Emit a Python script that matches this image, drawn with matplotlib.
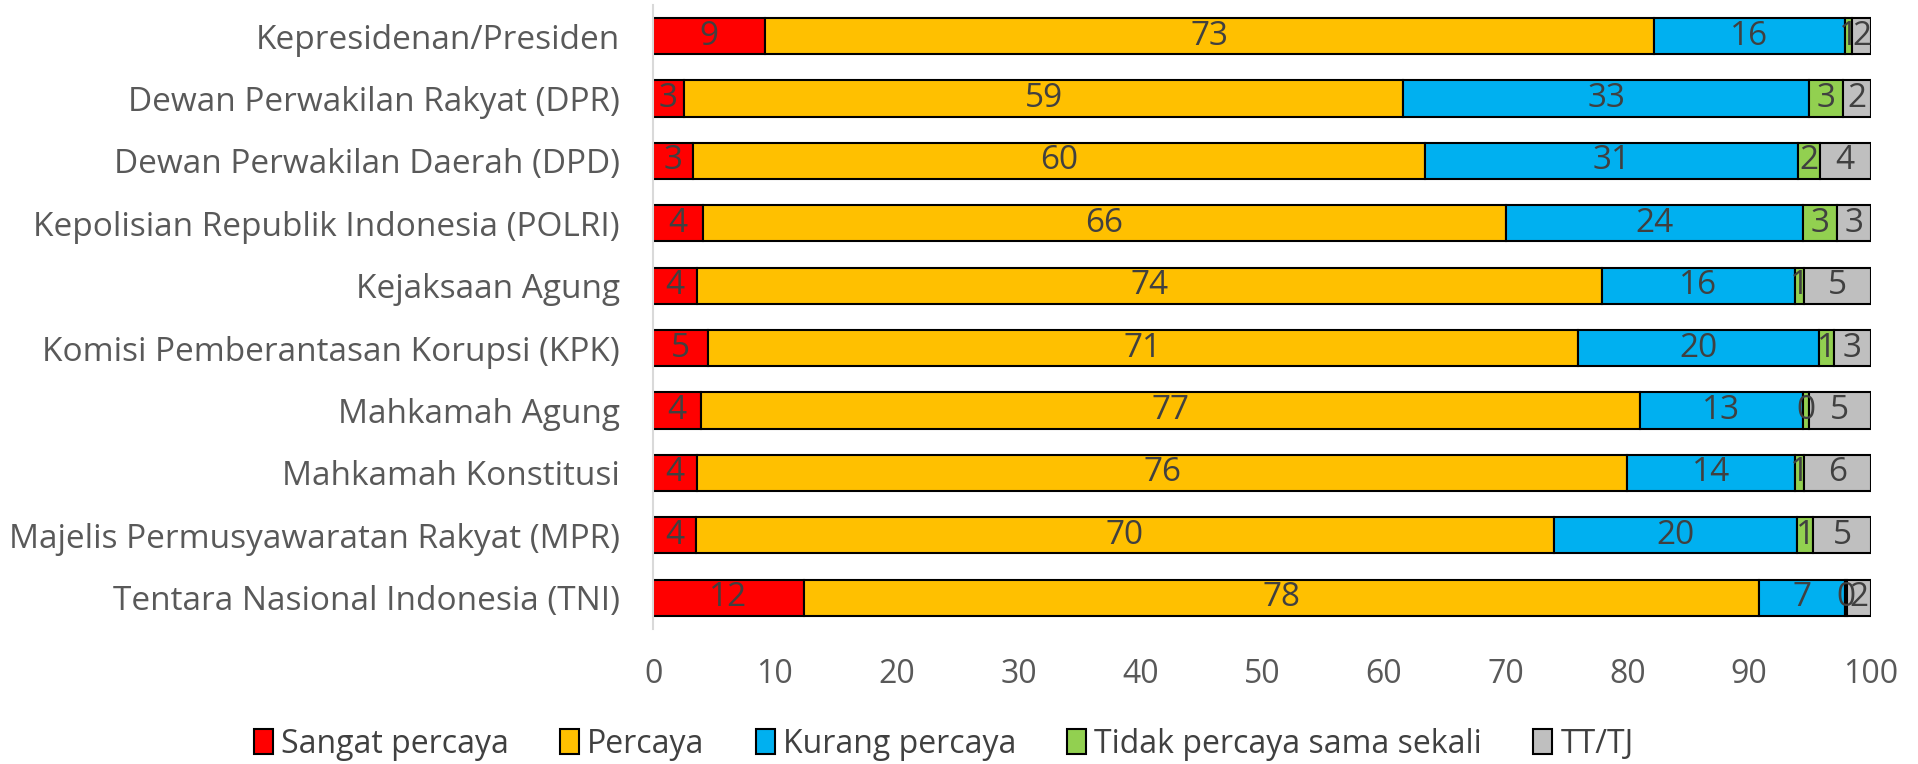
import matplotlib.pyplot as plt
from matplotlib.patches import Patch
import numpy as np

plt.rcParams['font.family'] = ['Open Sans', 'DejaVu Sans']

categories = [
    "Kepresidenan/Presiden",
    "Dewan Perwakilan Rakyat (DPR)",
    "Dewan Perwakilan Daerah (DPD)",
    "Kepolisian Republik Indonesia (POLRI)",
    "Kejaksaan Agung",
    "Komisi Pemberantasan Korupsi (KPK)",
    "Mahkamah Agung",
    "Mahkamah Konstitusi",
    "Majelis Permusyawaratan Rakyat (MPR)",
    "Tentara Nasional Indonesia (TNI)",
]
sangat_percaya = [9.15, 2.51, 3.28, 4.12, 3.62, 4.52, 3.95, 3.62, 3.55, 12.4]
percaya = [73.0, 59.1, 60.1, 65.9, 74.3, 71.4, 77.05, 76.38, 70.4, 78.4]
kurang_percaya = [15.75, 33.3, 30.66, 24.4, 15.83, 19.77, 13.4, 13.73, 20.0, 7.1]
tidak_percaya = [0.55, 2.78, 1.74, 2.77, 0.77, 1.27, 0.47, 0.74, 1.3, 0.1]
tt_tj = [1.53, 2.32, 4.2, 2.83, 5.46, 3.03, 5.13, 5.53, 4.75, 2.0]

series_names = ["Sangat percaya", "Percaya", "Kurang percaya",
                "Tidak percaya sama sekali", "TT/TJ"]
series = [sangat_percaya, percaya, kurang_percaya, tidak_percaya, tt_tj]
colors = ["#FF0000", "#FFC000", "#00B0F0", "#92D050", "#BFBFBF"]
x_ticks = [0, 10, 20, 30, 40, 50, 60, 70, 80, 90, 100]

fig = plt.figure(figsize=(19.18, 7.64), dpi=100)
ax = fig.add_axes([0.3405, 0.1767, 0.635, 0.8168])

y = np.arange(len(categories))
left = np.zeros(len(categories))
for name, vals, col in zip(series_names, series, colors):
    vals = np.array(vals)
    bars = ax.barh(y, vals, left=left, height=0.58, color=col,
                   edgecolor="black", linewidth=1.5, label=name)
    ax.bar_label(bars, labels=[f"{v:.0f}" for v in vals], label_type="center",
                 fontsize=24, color="#404040")
    left += vals

ax.set_ylim(len(categories) - 0.5, -0.5)
ax.set_xlim(0, 100)
ax.set_yticks(y)
ax.set_yticklabels(categories, fontsize=24, color="#595959")
ax.set_xticks(x_ticks)
ax.set_xticklabels([str(t) for t in x_ticks], fontsize=23, color="#595959")
ax.tick_params(axis="both", length=0)
ax.tick_params(axis="y", pad=24)
ax.tick_params(axis="x", pad=21)
for s in ["top", "right", "bottom"]:
    ax.spines[s].set_visible(False)
ax.spines["left"].set_color("#D9D9D9")
ax.spines["left"].set_linewidth(1.5)

handles = [Patch(facecolor=c, edgecolor="black", linewidth=1.5) for c in colors]
fig.legend(handles, series_names, loc="center", bbox_to_anchor=(0.492, 0.026),
           ncol=5, frameon=False, fontsize=23, labelcolor="#404040",
           handlelength=0.6, handleheight=0.8, handletextpad=0.25,
           columnspacing=1.6)

fig.savefig("out.png", dpi=100)
